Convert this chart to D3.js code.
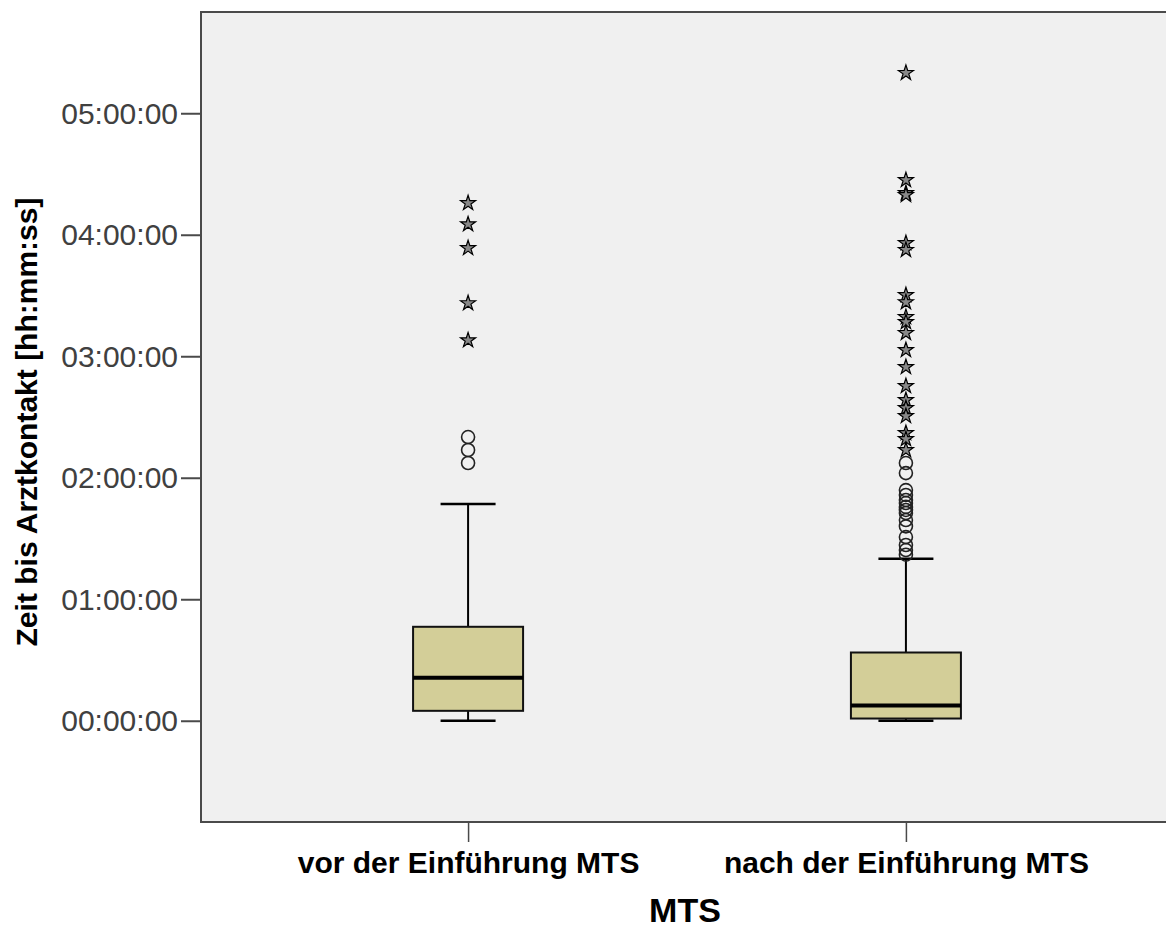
<!DOCTYPE html>
<html>
<head>
<meta charset="utf-8">
<script src="https://cdn.jsdelivr.net/npm/d3@7"></script>
<style>
  body { margin: 0; background: #fff; }
  text { font-family: "Liberation Sans", Arial, sans-serif; }
</style>
</head>
<body>
<svg width="1166" height="932"></svg>
<script>
// Data (minutes until doctor contact)
const groups = ['vor der Einführung MTS', 'nach der Einführung MTS']
const lowWhisker = [0, 0]
const q1 = [4.9, 1.1]
const median = [21.2, 7.5]
const q3 = [46.4, 33.7]
const highWhisker = [107, 80]
// mild outliers (circles) and extremes (stars)
const outliers = [
  [140.1, 133.7, 127.3],
  [127.3, 122.3, 113.9, 111.5, 109.0, 107.5, 105.6, 104.1, 102.6, 99.1, 96.0, 90.7, 86.8, 84.3, 82.0]
]
const extremes = [
  [255.6, 245.2, 233.4, 206.2, 187.9],
  [319.9, 267.0, 260.6, 259.6, 235.9, 232.5, 210.2, 206.7, 199.4, 196.9, 191.5, 183.1, 174.7, 165.3, 158.4, 154.4, 150.5, 142.1, 139.1, 133.7]
]
const yTicks = [0, 60, 120, 180, 240, 300]

const svg = d3.select('svg')
const plotL = 201, plotT = 12, plotB = 822, plotR = 1173

const x = d3.scalePoint().domain(groups).range([plotL, plotR]).padding(0.61)
const y = d3.scaleLinear().domain([-50, 350]).range([plotB, plotT])

const fmt = m => {
  const h = Math.floor(m / 60), mm = Math.round(m % 60)
  return d3.format('02')(h) + ':' + d3.format('02')(mm) + ':00'
}

// plot background + frame
svg.append('rect')
  .attr('x', plotL).attr('y', plotT)
  .attr('width', plotR - plotL).attr('height', plotB - plotT)
  .attr('fill', '#f0f0f0').attr('stroke', '#4a4a4a').attr('stroke-width', 2)

// y axis
const yAxis = svg.append('g')
  .attr('transform', `translate(${plotL},0)`)
  .call(d3.axisLeft(y).tickValues(yTicks).tickFormat(fmt).tickSize(20).tickPadding(3))
yAxis.select('.domain').remove()
yAxis.selectAll('.tick line').attr('stroke', '#4a4a4a').attr('stroke-width', 2)
yAxis.selectAll('.tick text')
  .attr('font-size', 30).attr('fill', '#404040')
  .attr('font-family', '"Liberation Sans", Arial, sans-serif')
  .attr('dy', '0.33em')

// x axis
const xAxis = svg.append('g')
  .attr('transform', `translate(0,${plotB})`)
  .call(d3.axisBottom(x).tickSize(20).tickPadding(10))
xAxis.select('.domain').remove()
xAxis.selectAll('.tick line').attr('stroke', '#4a4a4a').attr('stroke-width', 1.5)
xAxis.selectAll('.tick text')
  .attr('font-size', 30).attr('font-weight', 'bold').attr('fill', '#000')
  .attr('font-family', '"Liberation Sans", Arial, sans-serif')

// axis titles
svg.append('text')
  .attr('transform', 'translate(37,422) rotate(-90)')
  .attr('text-anchor', 'middle')
  .attr('font-size', 30).attr('font-weight', 'bold')
  .text('Zeit bis Arztkontakt [hh:mm:ss]')

svg.append('text')
  .attr('x', 685).attr('y', 922)
  .attr('text-anchor', 'middle')
  .attr('font-size', 34).attr('font-weight', 'bold')
  .text('MTS')

// boxes
const boxW = 110, capW = 55
const g = svg.append('g')
groups.forEach((grp, i) => {
  const cx = x(grp)
  // whiskers
  g.append('line').attr('x1', cx).attr('x2', cx)
    .attr('y1', y(q3[i])).attr('y2', y(highWhisker[i]))
    .attr('stroke', '#000').attr('stroke-width', 2)
  g.append('line').attr('x1', cx).attr('x2', cx)
    .attr('y1', y(q1[i])).attr('y2', y(lowWhisker[i]))
    .attr('stroke', '#000').attr('stroke-width', 2)
  g.append('line').attr('x1', cx - capW / 2).attr('x2', cx + capW / 2)
    .attr('y1', y(highWhisker[i])).attr('y2', y(highWhisker[i]))
    .attr('stroke', '#000').attr('stroke-width', 2.5)
  g.append('line').attr('x1', cx - capW / 2).attr('x2', cx + capW / 2)
    .attr('y1', y(lowWhisker[i])).attr('y2', y(lowWhisker[i]))
    .attr('stroke', '#000').attr('stroke-width', 2.5)
  // box
  g.append('rect')
    .attr('x', cx - boxW / 2).attr('y', y(q3[i]))
    .attr('width', boxW).attr('height', y(q1[i]) - y(q3[i]))
    .attr('fill', '#d3ce98').attr('stroke', '#111').attr('stroke-width', 2)
  g.append('line').attr('x1', cx - boxW / 2).attr('x2', cx + boxW / 2)
    .attr('y1', y(median[i])).attr('y2', y(median[i]))
    .attr('stroke', '#000').attr('stroke-width', 4)

  // outliers
  g.selectAll(null).data(outliers[i]).join('circle')
    .attr('cx', cx).attr('cy', d => y(d)).attr('r', 6.5)
    .attr('fill', 'none').attr('stroke', '#222').attr('stroke-width', 1.6)

  g.selectAll(null).data(extremes[i]).join('path')
    .attr('transform', d => `translate(${cx},${y(d)})`)
    .attr('d', d3.symbol(d3.symbolStar, 70))
    .attr('fill', '#888').attr('stroke', '#000').attr('stroke-width', 1.2)
})
</script>
</body>
</html>
